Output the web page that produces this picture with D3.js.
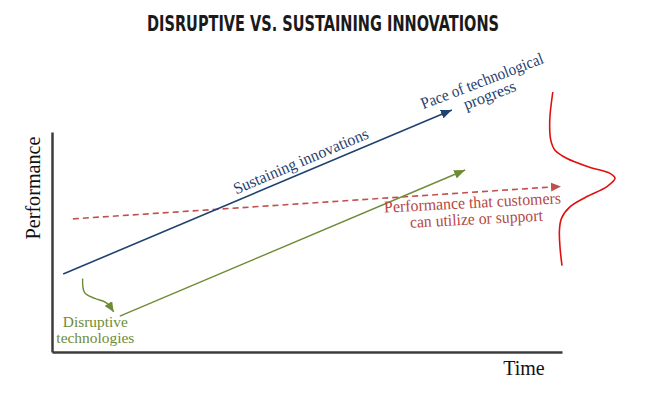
<!DOCTYPE html>
<html>
<head>
<meta charset="utf-8">
<script src="https://cdn.jsdelivr.net/npm/d3@7"></script>
<style>
  html, body { margin: 0; padding: 0; background: #fff; }
  svg { display: block; }
</style>
</head>
<body>
<svg id="chart" width="645" height="403"></svg>
<script>
// ---- data (in abstract "time" / "performance" units) ----
const sustainingLine = [[2.2, 30.0], [78.4, 93.1]];
const disruptiveLine = [[13.3, 13.8], [81.0, 70.0]];
const customerNeedLine = [[4.1, 51.2], [99.8, 63.7]];
const disruptArrow = [[6.0, 28.3], [6.4, 22.8], [8.4, 20.6], [10.6, 19.0], [12.1, 15.4]];
const demandCurve = [[98.2, 100], [97.6, 89.2], [97.8, 81.5], [98.6, 77.7], [100.9, 74.5],
  [105.5, 71.0], [109.4, 68.7], [110.4, 66.8], [108.8, 63.6], [104.8, 59.7], [101.6, 55.9],
  [99.9, 51.4], [99.5, 46.9], [99.6, 40.5], [100.0, 33.2]];
const title = "DISRUPTIVE VS. SUSTAINING INNOVATIONS";
const xLabel = "Time";
const yLabel = "Performance";

const svg = d3.select("#chart");
const x = d3.scaleLinear().domain([0, 100]).range([52, 562]);
const y = d3.scaleLinear().domain([0, 100]).range([352, 92]);

const C = { blue: "#1f426f", green: "#6e8c35", red: "#c0504d", redText: "#b44744", curve: "#e01010", axis: "#3c3c3c" };

// markers
const defs = svg.append("defs");
function marker(id, color, len, wid) {
  defs.append("marker").attr("id", id)
    .attr("markerUnits", "userSpaceOnUse")
    .attr("viewBox", `0 0 ${len} ${wid}`)
    .attr("refX", len).attr("refY", wid / 2)
    .attr("markerWidth", len).attr("markerHeight", wid)
    .attr("orient", "auto")
    .append("path").attr("d", `M0,0L${len},${wid / 2}L0,${wid}Z`).attr("fill", color);
}
marker("mBlue", C.blue, 11, 9);
marker("mGreen", C.green, 11, 9);
marker("mRed", C.red, 10, 9);
marker("mGreen2", C.green, 10, 9);

// title
svg.append("text").attr("x", 323).attr("y", 31).attr("text-anchor", "middle")
  .attr("font-family", "'DejaVu Sans Condensed', 'DejaVu Sans', sans-serif")
  .attr("font-weight", "bold").attr("font-size", 22).attr("fill", "#1a1a1a")
  .attr("textLength", 352).attr("lengthAdjust", "spacingAndGlyphs")
  .text(title);

// axes (plain L-shaped frame, no ticks)
const xAxis = d3.axisBottom(x).tickValues([]).tickSizeOuter(0);
const yAxisScale = d3.scaleLinear().domain([0, 100]).range([352, 132]);
svg.append("g").attr("transform", `translate(0,${y(0)})`).call(xAxis)
  .select(".domain").attr("stroke", C.axis).attr("stroke-width", 2.5);
svg.append("g").attr("transform", `translate(${x(0)},0)`).call(d3.axisLeft(yAxisScale).tickValues([]).tickSizeOuter(0))
  .select(".domain").attr("stroke", C.axis).attr("stroke-width", 2.5);

const line = d3.line().x(d => x(d[0])).y(d => y(d[1]));
const curveLine = d3.line().x(d => x(d[0])).y(d => y(d[1])).curve(d3.curveCatmullRom.alpha(0.5));

// customer need (dashed)
svg.append("path").datum(customerNeedLine).attr("d", line)
  .attr("fill", "none").attr("stroke", C.red).attr("stroke-width", 1.6)
  .attr("stroke-dasharray", "6,4").attr("marker-end", "url(#mRed)");

// sustaining
svg.append("path").datum(sustainingLine).attr("d", line)
  .attr("fill", "none").attr("stroke", C.blue).attr("stroke-width", 1.6)
  .attr("marker-end", "url(#mBlue)");

// disruptive
svg.append("path").datum(disruptiveLine).attr("d", line)
  .attr("fill", "none").attr("stroke", C.green).attr("stroke-width", 1.4)
  .attr("marker-end", "url(#mGreen)");

// curved arrow
svg.append("path").datum(disruptArrow).attr("d", curveLine)
  .attr("fill", "none").attr("stroke", C.green).attr("stroke-width", 1.4)
  .attr("marker-end", "url(#mGreen2)");

// demand distribution curve
svg.append("path").datum(demandCurve).attr("d", curveLine)
  .attr("fill", "none").attr("stroke", C.curve).attr("stroke-width", 1.6);

// labels
const serif = "'Liberation Serif', 'Times New Roman', serif";
function label(px, py, angle, lines, color, size, lengths) {
  const g = svg.append("g").attr("transform", `translate(${px},${py}) rotate(${angle})`);
  lines.forEach((l, i) => {
    g.append("text").attr("x", l.dx).attr("y", l.dy).attr("text-anchor", "middle")
      .attr("font-family", serif).attr("font-size", size).attr("fill", color)
      .attr("textLength", lengths[i]).attr("lengthAdjust", "spacingAndGlyphs")
      .text(l.t);
  });
}
label(x(49.2), y(71.5), -23, [{ t: "Sustaining innovations", dx: 0, dy: 0 }], C.blue, 16.5, [145]);
label(x(84.7), y(102.3), -21, [{ t: "Pace of technological", dx: 0, dy: 0 }, { t: "progress", dx: 2, dy: 16 }], C.blue, 16.5, [130, 55]);
label(x(82.5), y(55.4), -3, [{ t: "Performance that customers", dx: 0, dy: 0 }, { t: "can utilize or support", dx: 3, dy: 16.5 }], C.redText, 16.5, [177, 133]);
label(x(8.5), y(9.6), 0, [{ t: "Disruptive", dx: 0, dy: 0 }, { t: "technologies", dx: 0, dy: 16 }], C.green, 15.5, [65, 78]);

svg.append("text").attr("x", 524).attr("y", 375).attr("text-anchor", "middle")
  .attr("font-family", serif).attr("font-size", 20).attr("fill", "#111")
  .text(xLabel);
svg.append("text").attr("transform", "translate(40,188) rotate(-90)").attr("text-anchor", "middle")
  .attr("font-family", serif).attr("font-size", 20).attr("fill", "#111")
  .attr("textLength", 103).attr("lengthAdjust", "spacingAndGlyphs")
  .text(yLabel);
</script>
</body>
</html>
